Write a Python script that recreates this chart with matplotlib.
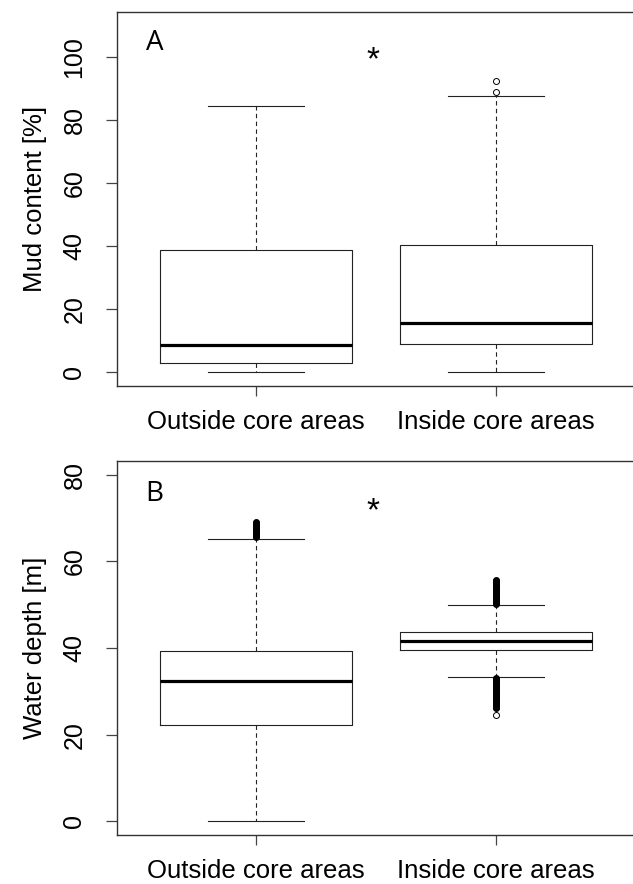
import matplotlib
matplotlib.use("Agg")
import matplotlib.pyplot as plt

plt.rcParams['font.family'] = ['Liberation Sans', 'DejaVu Sans']

groups = ["Outside core areas", "Inside core areas"]

# panel A: mud content [%]
mud_whislo = [0.0, 0.0]
mud_q1 = [2.8, 8.9]
mud_med = [8.6, 15.6]
mud_q3 = [38.9, 40.5]
mud_whishi = [84.6, 87.7]
mud_fliers = [[], [89.0, 92.5]]

# panel B: water depth [m]
depth_whislo = [0.1, 33.3]
depth_q1 = [22.3, 39.6]
depth_med = [32.3, 41.6]
depth_q3 = [39.3, 43.7]
depth_whishi = [65.2, 50.0]
# dense outlier clusters (thousands of points in the original)
depth_fliers_out = [65.5, 65.75, 66.0, 66.25, 66.5, 66.75, 67.0, 67.25, 67.5,
                    67.75, 68.0, 68.25, 68.5, 68.75, 69.0]
depth_fliers_in = [50.25, 50.5, 50.75, 51.0, 51.25, 51.5, 51.75, 52.0, 52.25,
                   52.5, 52.75, 53.0, 53.25, 53.5, 53.75, 54.0, 54.25, 54.5,
                   54.75, 55.0, 55.25, 55.5, 55.75,
                   33.0, 32.75, 32.5, 32.25, 32.0, 31.75, 31.5, 31.25, 31.0,
                   30.75, 30.5, 30.25, 30.0, 29.75, 29.5, 29.25, 29.0, 28.75,
                   28.5, 28.25, 28.0, 27.75, 27.5, 27.25, 27.0, 26.75, 26.5,
                   26.25]
depth_fliers = [depth_fliers_out, depth_fliers_in]
depth_single_flier = [24.6]   # the lone low outlier inside core areas


def make_stats(lo, q1, med, q3, hi, fl):
    out = []
    for i in range(len(lo)):
        out.append(dict(whislo=lo[i], q1=q1[i], med=med[i], q3=q3[i],
                        whishi=hi[i], fliers=fl[i]))
    return out


def draw_panel(ax, stats, ylim, yticks, ylabel, letter, letter_y, star_y,
               flier_ms=4.3, flier_mew=0.7):
    ink = '#222222'
    ax.bxp(stats, positions=[1, 2], widths=0.8, showfliers=True,
           boxprops=dict(color=ink, linewidth=0.8),
           whiskerprops=dict(color=ink, linewidth=0.8, linestyle=(0, (4, 3))),
           capprops=dict(color=ink, linewidth=0.8),
           capwidths=0.4,
           medianprops=dict(color='black', linewidth=2.3),
           flierprops=dict(marker='o', markersize=flier_ms, markerfacecolor='none',
                           markeredgecolor='black', markeredgewidth=flier_mew))
    pad = 0.04 * (ylim[1] - ylim[0])
    ax.set_ylim(ylim[0] - pad, ylim[1] + pad)
    ax.set_xlim(0.42, 2.58)
    ax.set_yticks(yticks)
    ax.set_yticklabels([str(t) for t in yticks], rotation=90, va='center')
    ax.set_xticks([1, 2])
    ax.set_xticklabels(groups)
    ax.tick_params(axis='y', length=8, width=0.9, color='#444444',
                   labelsize=18, pad=14)
    ax.tick_params(axis='x', length=7, width=0.9, color='#444444',
                   labelsize=18.5, pad=10)
    for s in ax.spines.values():
        s.set_color('#333333')
        s.set_linewidth(1.0)
    ax.set_ylabel(ylabel, fontsize=18.5)
    ax.yaxis.set_label_coords(-0.135, 0.5)
    ax.text(0.54, letter_y, letter, fontsize=20, family=['Open Sans', 'DejaVu Sans'],
            ha='left', va='center')
    ax.text(1.49, star_y, '*', fontsize=24, ha='center', va='center')


fig = plt.figure(figsize=(6.33, 8.84), dpi=100)
ax1 = fig.add_axes([0.1848, 0.5633, 0.818, 0.4231])
ax2 = fig.add_axes([0.1848, 0.0551, 0.818, 0.4238])

draw_panel(ax1, make_stats(mud_whislo, mud_q1, mud_med, mud_q3, mud_whishi, mud_fliers),
           (0, 110), [0, 20, 40, 60, 80, 100], 'Mud content [%]', 'A', 104.5, 99)
draw_panel(ax2, make_stats(depth_whislo, depth_q1, depth_med, depth_q3, depth_whishi, depth_fliers),
           (0, 80), [0, 20, 40, 60, 80], 'Water depth [m]', 'B', 75.6, 71.5,
           flier_ms=3.4, flier_mew=1.6)
ax2.plot([2] * len(depth_single_flier), depth_single_flier, 'o', markersize=4.3,
         markerfacecolor='none', markeredgecolor='black', markeredgewidth=0.7)

fig.savefig('out.png', dpi=100)
